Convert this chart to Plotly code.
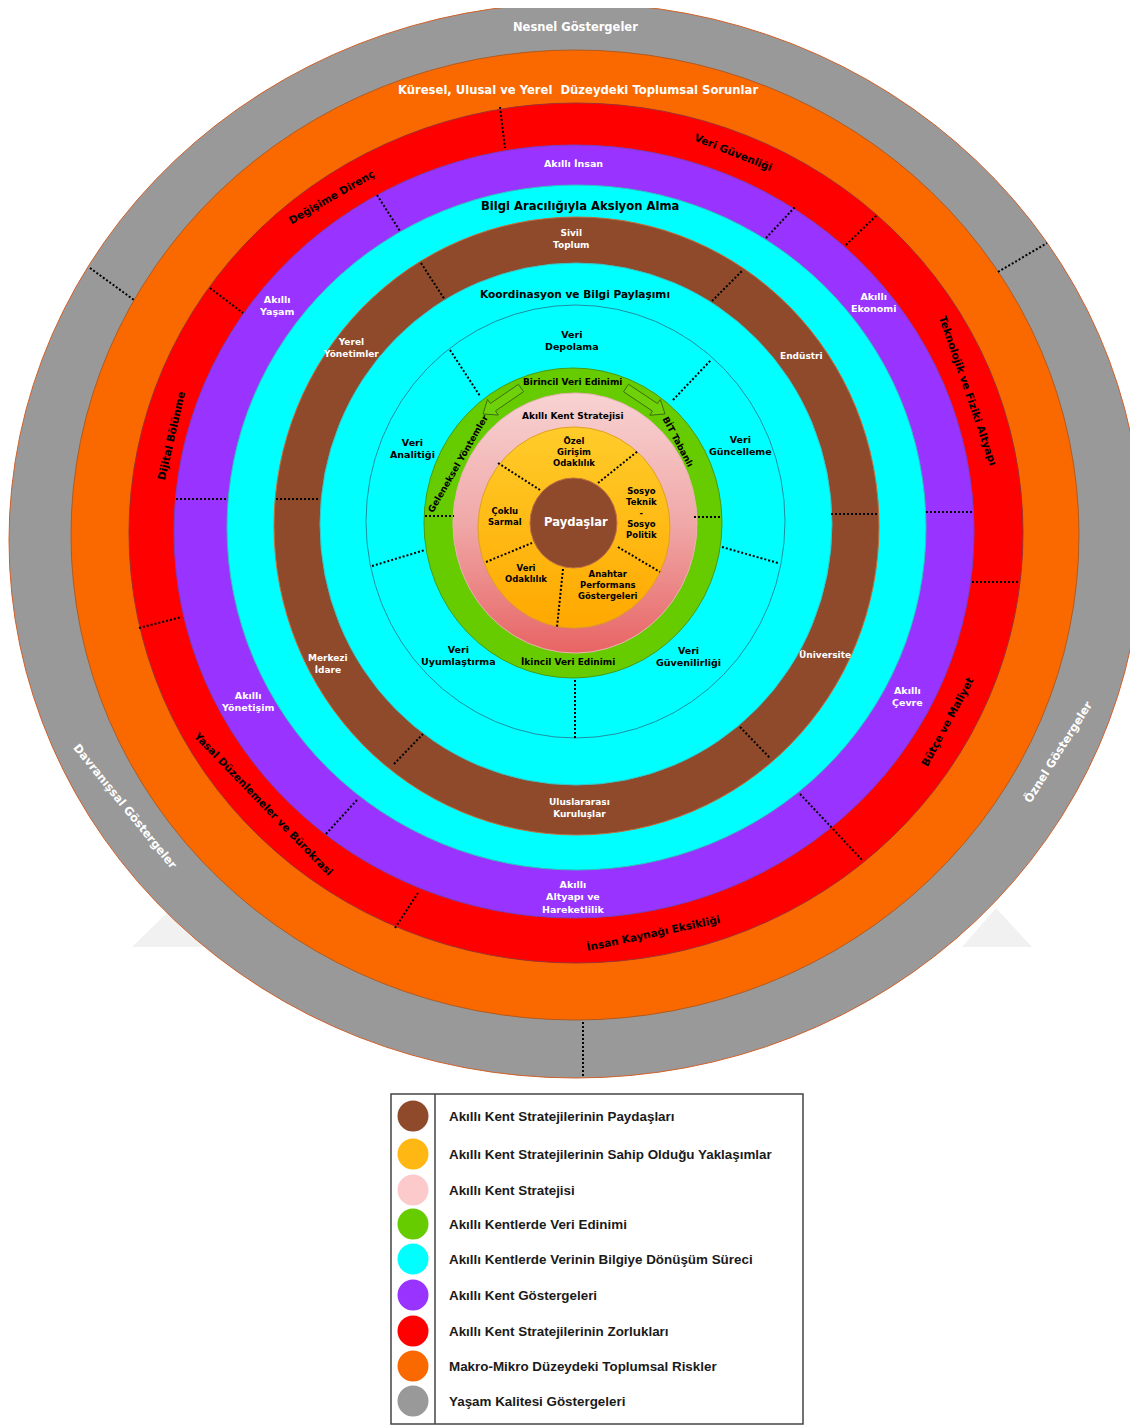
import numpy as np
import plotly.graph_objects as go

W, H = 1138, 1425
PAGE_MARGIN = 8  # default body margin of the html page

# ---------------- data ----------------
ring_names = ["Yaşam Kalitesi Göstergeleri", "Makro-Mikro Düzeydeki Toplumsal Riskler",
              "Akıllı Kent Stratejilerinin Zorlukları", "Akıllı Kent Göstergeleri",
              "Bilgi Aracılığıyla Aksiyon Alma", "Akıllı Kent Stratejilerinin Paydaşları",
              "Koordinasyon ve Bilgi Paylaşımı", "Veri işleme", "Akıllı Kentlerde Veri Edinimi"]
ring_colors = ["#999999", "#f96900", "#ff0000", "#9933ff", "#00ffff", "#8e4a2b",
               "#00ffff", "#00ffff", "#66cc00"]
ring_edges = ["#d0602a", "#b05a20", "#a03030", "#7a40c0", "#30c0c0", "#c07040",
              "#40c0c0", "#1f8f9f", "#4a9a10"]

gray_labels = ["Nesnel Göstergeler", "Öznel Göstergeler", "Davranışsal Göstergeler"]
orange_labels = ["Küresel, Ulusal ve Yerel  Düzeydeki Toplumsal Sorunlar"]
challenge_labels = ["Veri Güvenliği", "Teknolojik ve Fiziki Altyapı", "Bütçe ve Maliyet",
                    "İnsan Kaynağı Eksikliği", "Yasal Düzenlemeler ve Bürokrasi",
                    "Dijital Bölünme", "Değişime Direnç"]
indicator_labels = ["Akıllı İnsan", "Akıllı<br>Ekonomi", "Akıllı<br>Çevre",
                    "Akıllı<br>Altyapı ve<br>Hareketlilik", "Akıllı<br>Yönetişim", "Akıllı<br>Yaşam"]
action_labels = ["Bilgi Aracılığıyla Aksiyon Alma"]
stakeholder_labels = ["Sivil<br>Toplum", "Endüstri", "Üniversite", "Uluslararası<br>Kuruluşlar",
                      "Merkezi<br>İdare", "Yerel<br>Yönetimler"]
coord_labels = ["Koordinasyon ve Bilgi Paylaşımı"]
process_labels = ["Veri<br>Depolama", "Veri<br>Güncelleme", "Veri<br>Güvenilirliği",
                  "Veri<br>Uyumlaştırma", "Veri<br>Analitiği"]
acquisition_labels = ["Birincil Veri Edinimi", "BİT Tabanlı", "İkincil Veri Edinimi",
                      "Geleneksel Yöntemler"]
strategy_labels = ["Akıllı Kent Stratejisi"]
approach_labels = ["Özel<br>Girişim<br>Odaklılık", "Sosyo<br>Teknik<br>-<br>Sosyo<br>Politik",
                   "Anahtar<br>Performans<br>Göstergeleri", "Veri<br>Odaklılık", "Çoklu<br>Sarmal"]
center_labels = ["Paydaşlar"]

legend_labels = ["Akıllı Kent Stratejilerinin Paydaşları",
                 "Akıllı Kent Stratejilerinin Sahip Olduğu Yaklaşımlar",
                 "Akıllı Kent Stratejisi",
                 "Akıllı Kentlerde Veri Edinimi",
                 "Akıllı Kentlerde Verinin Bilgiye Dönüşüm Süreci",
                 "Akıllı Kent Göstergeleri",
                 "Akıllı Kent Stratejilerinin Zorlukları",
                 "Makro-Mikro Düzeydeki Toplumsal Riskler",
                 "Yaşam Kalitesi Göstergeleri"]
legend_colors = ["#8e4a2b", "#ffb714", "#fccaca", "#66cc00", "#00ffff", "#9933ff",
                 "#ff0000", "#f96900", "#999999"]

# ---------------- layout geometry (pixel space) ----------------
ring_bounds = [(9, 1142, 3, 1078), (71, 1079, 50, 1020), (129, 1023, 103, 963),
               (174, 974, 145, 918), (227, 926, 185, 870), (274, 879, 217, 835),
               (320, 832, 263, 785), (366, 785, 305, 738), (424, 722, 368, 678)]
pink_b = (453, 697, 393, 653)
yellow_b = (478, 670, 427, 628)
center_b = (530, 617, 478, 568)

dividers = [
    ((90, 268), (134, 300)), ((998, 272), (1047, 243)), ((583, 1022), (583, 1078)),
    ((500, 107), (505, 148)), ((210, 288), (243, 313)), ((139, 628), (182, 617)),
    ((846, 245), (877, 215)), ((972, 582), (1018, 582)), ((833, 829), (863, 861)),
    ((395, 928), (418, 893)),
    ((377, 195), (400, 231)), ((766, 238), (795, 207)), ((176, 499), (228, 499)),
    ((926, 512), (973, 512)), ((326, 834), (357, 800)), ((800, 794), (833, 829)),
    ((421, 263), (445, 300)), ((712, 301), (742, 271)), ((276, 499), (320, 499)),
    ((831, 514), (879, 514)), ((394, 764), (423, 734)), ((740, 727), (770, 758)),
    ((450, 350), (480, 396)), ((673, 400), (711, 360)), ((372, 566), (425, 550)),
    ((722, 547), (778, 563)), ((575, 680), (575, 739)),
    ((425, 516), (454, 516)), ((694, 517), (722, 517)),
    ((498, 463), (540, 490)), ((598, 483), (638, 451)), ((618, 547), (660, 572)),
    ((563, 569), (557, 627)), ((486, 562), (532, 543)),
]

arrows = [((521, 388), (483, 414)), ((626, 388), (665, 414))]

label_groups = [
    (gray_labels, [(575, 27, 0), (1057, 752, -58), (125, 806, 51)], "white", 11.5),
    (orange_labels, [(578, 90, 0)], "white", 11.6),
    (challenge_labels, [(733, 152, 22), (968, 390, 71), (947, 722, -62), (653, 932, -12),
                        (263, 803, 46), (171, 436, -77), (331, 197, -30)], "black", 10.5),
    (indicator_labels, [(573, 163, 0), (874, 302, 0), (907, 696, 0), (573, 897, 0),
                        (247, 701, 0), (276, 305, 0)], "white", 9.5),
    (action_labels, [(580, 206, 0)], "black", 11.6),
    (stakeholder_labels, [(571, 239, 0), (801, 356, 0), (825, 655, 0), (579, 808, 0),
                          (328, 664, 0), (351, 348, 0)], "white", 9),
    (coord_labels, [(575, 294, 0)], "black", 10.6),
    (process_labels, [(572, 340, 0), (740, 445, 0), (688, 656, 0), (458, 655, 0),
                      (412, 448, 0)], "black", 9.5),
    (acquisition_labels, [(572, 382, 0), (678, 442, 62), (568, 662, 0), (458, 464, -60)],
     "black", 9),
    (strategy_labels, [(573, 416, 0)], "black", 9),
    (approach_labels, [(574, 452, 0), (641, 513, 0), (608, 585, 0), (526, 573, 0),
                       (505, 516, 0)], "black", 8.5),
    (center_labels, [(576, 522, 0)], "white", 11.6),
]

legend_box = (391, 803, 1094, 1424)
legend_sep_x = 435
legend_marker_x = 413
legend_text_x = 447
legend_y = [1116, 1154, 1190, 1224, 1259, 1295, 1331, 1366, 1401]

# ---------------- build ----------------
fig = go.Figure()
shapes = []

# faint watermark marks
for pts in [[(132, 947), (172, 908), (205, 947)], [(962, 947), (996, 908), (1032, 947)]]:
    path = "M " + " L ".join(f"{x},{y}" for x, y in pts) + " Z"
    shapes.append(dict(type="path", path=path, fillcolor="#f1f1f1", line=dict(width=0),
                       layer="below"))

for (x0, x1, y0, y1), col, edge in zip(ring_bounds, ring_colors, ring_edges):
    shapes.append(dict(type="circle", x0=x0, x1=x1, y0=y0, y1=y1, fillcolor=col,
                       line=dict(color=edge, width=1), layer="below"))


def ellipse(b, n=240):
    x0, x1, y0, y1 = b
    t = np.linspace(0, 2 * np.pi, n)
    return (x0 + x1) / 2 + (x1 - x0) / 2 * np.cos(t), (y0 + y1) / 2 + (y1 - y0) / 2 * np.sin(t)


px, py = ellipse(pink_b)
fig.add_trace(go.Scatter(x=px, y=py, mode="lines", fill="toself",
                         line=dict(color="#e9b3b3", width=1),
                         fillgradient=dict(type="vertical",
                                           colorscale=[[0, "#f8d2d2"], [0.5, "#f0a8a8"], [1, "#e86464"]],
                                           start=pink_b[2], stop=pink_b[3]),
                         hoverinfo="skip", showlegend=False))
yx, yy = ellipse(yellow_b)
fig.add_trace(go.Scatter(x=yx, y=yy, mode="lines", fill="toself",
                         line=dict(color="#e0a020", width=1),
                         fillgradient=dict(type="vertical",
                                           colorscale=[[0, "#ffcc2a"], [1, "#ffa800"]],
                                           start=yellow_b[2], stop=yellow_b[3]),
                         hoverinfo="skip", showlegend=False))

shapes.append(dict(type="circle", x0=center_b[0], x1=center_b[1], y0=center_b[2], y1=center_b[3],
                   fillcolor="#8e4a2b", line=dict(color="#c07040", width=1), layer="above"))

for (a, b) in dividers:
    shapes.append(dict(type="line", x0=a[0], y0=a[1], x1=b[0], y1=b[1],
                       line=dict(color="black", width=2, dash="2px,2px"), layer="above"))


def arrow_poly(p0, p1, sw=4.5, hw=9.5, hl=12):
    p0 = np.array(p0, float); p1 = np.array(p1, float)
    d = p1 - p0; L = np.hypot(*d); u = d / L; n = np.array([-u[1], u[0]])
    hb = p1 - u * hl
    pts = [p0 + n * sw, hb + n * sw, hb + n * hw, p1, hb - n * hw, hb - n * sw, p0 - n * sw, p0 + n * sw]
    return [p[0] for p in pts], [p[1] for p in pts]


for a, b in arrows:
    ax, ay = arrow_poly(a, b)
    fig.add_trace(go.Scatter(x=ax, y=ay, mode="lines", fill="toself", fillcolor="#6fd10a",
                             line=dict(color="#3d6e10", width=1), hoverinfo="skip",
                             showlegend=False))

annotations = []
for texts, places, color, size in label_groups:
    for txt, (x, y, ang) in zip(texts, places):
        annotations.append(dict(x=x, y=y, text=f"<b>{txt}</b>", showarrow=False,
                                textangle=ang, xanchor="center", yanchor="middle",
                                font=dict(family="DejaVu Sans", size=size, color=color)))

# legend box
lx0, lx1, ly0, ly1 = legend_box
shapes.append(dict(type="rect", x0=lx0, x1=lx1, y0=ly0, y1=ly1,
                   line=dict(color="#444444", width=1.5), layer="above"))
shapes.append(dict(type="line", x0=legend_sep_x, x1=legend_sep_x, y0=ly0, y1=ly1,
                   line=dict(color="#444444", width=1.5), layer="above"))
fig.add_trace(go.Scatter(x=[legend_marker_x] * len(legend_y), y=legend_y, mode="markers",
                         marker=dict(size=31, color=legend_colors, line=dict(width=0)),
                         hoverinfo="skip", showlegend=False))
for txt, y in zip(legend_labels, legend_y):
    annotations.append(dict(x=legend_text_x, y=y, text=f"<b>{txt}</b>", showarrow=False,
                            xanchor="left", yanchor="middle",
                            font=dict(family="Liberation Sans, Arial", size=13.4, color="#1a1a1a")))

m = PAGE_MARGIN
fig.update_layout(width=W - m, height=H - m, autosize=False, margin=dict(l=0, r=0, t=0, b=0),
                  paper_bgcolor="white", plot_bgcolor="white", shapes=shapes,
                  annotations=annotations,
                  xaxis=dict(range=[m, W], visible=False, fixedrange=True),
                  yaxis=dict(range=[H, m], visible=False, fixedrange=True))

fig.write_html("out.html")
